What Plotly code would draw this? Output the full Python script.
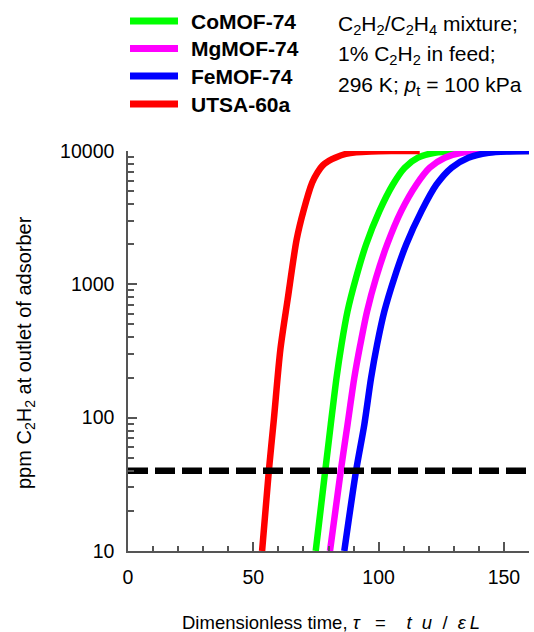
import plotly.graph_objects as go

# Breakthrough curves: dimensionless time vs ppm C2H2 at adsorber outlet
series_names = ["CoMOF-74", "MgMOF-74", "FeMOF-74", "UTSA-60a"]
series_colors = ["#00ff00", "#ff00ff", "#0000ff", "#ff0000"]

co_tau = [74.9, 78.7, 80.9, 83.2, 85.2, 87.6, 91.0, 95.0, 100.3, 105.7, 110.4, 115.7, 122.4, 132.0, 145.0, 160.0]
co_ppm = [10, 40, 89, 199, 354, 629, 1122, 1991, 3540, 5610, 7500, 8910, 9700, 9930, 9990, 10000]

mg_tau = [80.6, 84.9, 87.6, 90.3, 92.7, 95.4, 99.0, 103.4, 109.0, 115.1, 120.4, 126.4, 133.1, 142.0, 152.0, 160.0]
mg_ppm = [10, 40, 89, 199, 354, 629, 1122, 1991, 3540, 5610, 7500, 8910, 9700, 9920, 9985, 10000]

fe_tau = [86.3, 91.0, 94.3, 97.0, 99.4, 102.3, 106.3, 111.0, 117.1, 123.1, 129.1, 135.8, 143.9, 152.0, 160.0]
fe_ppm = [10, 40, 89, 199, 354, 629, 1122, 1991, 3540, 5610, 7500, 8910, 9700, 9930, 9990]

utsa_tau = [53.5, 56.2, 58.2, 60.8, 63.7, 67.3, 70.1, 73.5, 75.6, 77.7, 80.2, 82.9, 86.9, 91.0, 97.0, 105.0, 116.4]
utsa_ppm = [10, 40, 97, 325, 771, 2170, 3600, 5800, 6900, 7800, 8450, 8950, 9500, 9780, 9920, 9980, 10000]

threshold_tau = [0, 160]
threshold_ppm = [40, 40]

x_ticks = [0, 50, 100, 150]
y_ticks = [10, 100, 1000, 10000]
y_tick_text = ["10", "100", "1000", "10000"]

FONT = "Liberation Sans, Arial, sans-serif"
AXIS_COLOR = "#555555"
NB = "\u00a0"
THIN = "\u2009"

fig = go.Figure()
curves = [(co_tau, co_ppm), (mg_tau, mg_ppm), (fe_tau, fe_ppm), (utsa_tau, utsa_ppm)]
for name, color, (xs, ys) in zip(series_names, series_colors, curves):
    fig.add_trace(go.Scatter(x=xs, y=ys, mode="lines", name=name,
                             line=dict(color=color, width=6.5, shape="spline", smoothing=0.8),
                             showlegend=False))

fig.add_trace(go.Scatter(x=threshold_tau, y=threshold_ppm, mode="lines",
                         line=dict(color="black", width=6.5, dash="20px,7px"),
                         showlegend=False))

# Plot area spans 128..529 px horizontally and 151..551 px vertically
def px_x(px):
    return (px - 128) / 401.0

def px_y(py):
    return (551 - py) / 400.0

# Legend drawn as line samples plus bold labels
legend_rows = [21, 48.5, 76, 104]
for name, color, py in zip(series_names, series_colors, legend_rows):
    fig.add_shape(type="line", xref="paper", yref="paper",
                  x0=px_x(130), x1=px_x(178), y0=px_y(py), y1=px_y(py),
                  line=dict(color=color, width=7))
    fig.add_annotation(xref="paper", yref="paper", x=px_x(189), y=px_y(py),
                       xanchor="left", yanchor="middle", showarrow=False,
                       text="<b>%s</b>" % name,
                       font=dict(family=FONT, size=21, color="black"))

info_lines = [
    ("C<sub>2</sub>H<sub>2</sub>/C<sub>2</sub>H<sub>4</sub> mixture;", 25),
    ("1% C<sub>2</sub>H<sub>2</sub> in feed;", 55),
    ("296 K; <i>p</i><sub>t</sub> = 100 kPa", 86),
]
for txt, py in info_lines:
    fig.add_annotation(xref="paper", yref="paper", x=px_x(336), y=px_y(py),
                       xanchor="left", yanchor="middle", showarrow=False, text=txt,
                       font=dict(family=FONT, size=21, color="black"))

# Axis titles
fig.add_annotation(xref="paper", yref="paper", x=px_x(25), y=px_y(353),
                   xanchor="center", yanchor="middle", showarrow=False, textangle=-90,
                   text="ppm C<sub>2</sub>H<sub>2</sub> at outlet of adsorber",
                   font=dict(family=FONT, size=20, color="black"))

x_title = ("Dimensionless time, <i>τ</i>" + NB * 2 + " =" + NB * 3 + " <i>t</i>" + NB
           + " <i>u</i>" + NB + " /" + NB + NB + "<i>ε</i>" + THIN + "<i>L</i>")
fig.add_annotation(xref="paper", yref="paper", x=px_x(180), y=px_y(622),
                   xanchor="left", yanchor="middle", showarrow=False,
                   text=x_title, font=dict(family=FONT, size=18.5, color="black"))

fig.update_layout(
    width=534, height=632,
    margin=dict(l=128, r=5, t=151, b=81, pad=0),
    paper_bgcolor="white", plot_bgcolor="white",
    font=dict(family=FONT, size=19, color="black"),
    showlegend=False,
)

fig.update_xaxes(
    range=[0, 160], tickvals=x_ticks, ticks="inside", ticklen=9, tickwidth=1.5,
    tickcolor=AXIS_COLOR, showline=True, linecolor=AXIS_COLOR, linewidth=1.5,
    showgrid=False, zeroline=False, ticklabelstandoff=8, automargin=False,
    tickfont=dict(family=FONT, size=19.5, color="black"),
    minor=dict(dtick=10, ticks="inside", ticklen=5, tickwidth=1.5, tickcolor=AXIS_COLOR, showgrid=False),
)

fig.update_yaxes(
    type="log", range=[1, 4], tickvals=y_ticks, ticktext=y_tick_text,
    ticks="inside", ticklen=9, tickwidth=1.5, tickcolor=AXIS_COLOR,
    showline=True, linecolor=AXIS_COLOR, linewidth=1.5,
    showgrid=False, zeroline=False, ticklabelstandoff=8, automargin=False,
    tickfont=dict(family=FONT, size=19.5, color="black"),
    minor=dict(dtick="D1", ticks="inside", ticklen=6, tickwidth=1.5, tickcolor=AXIS_COLOR, showgrid=False),
)

fig.write_html("out.html")
